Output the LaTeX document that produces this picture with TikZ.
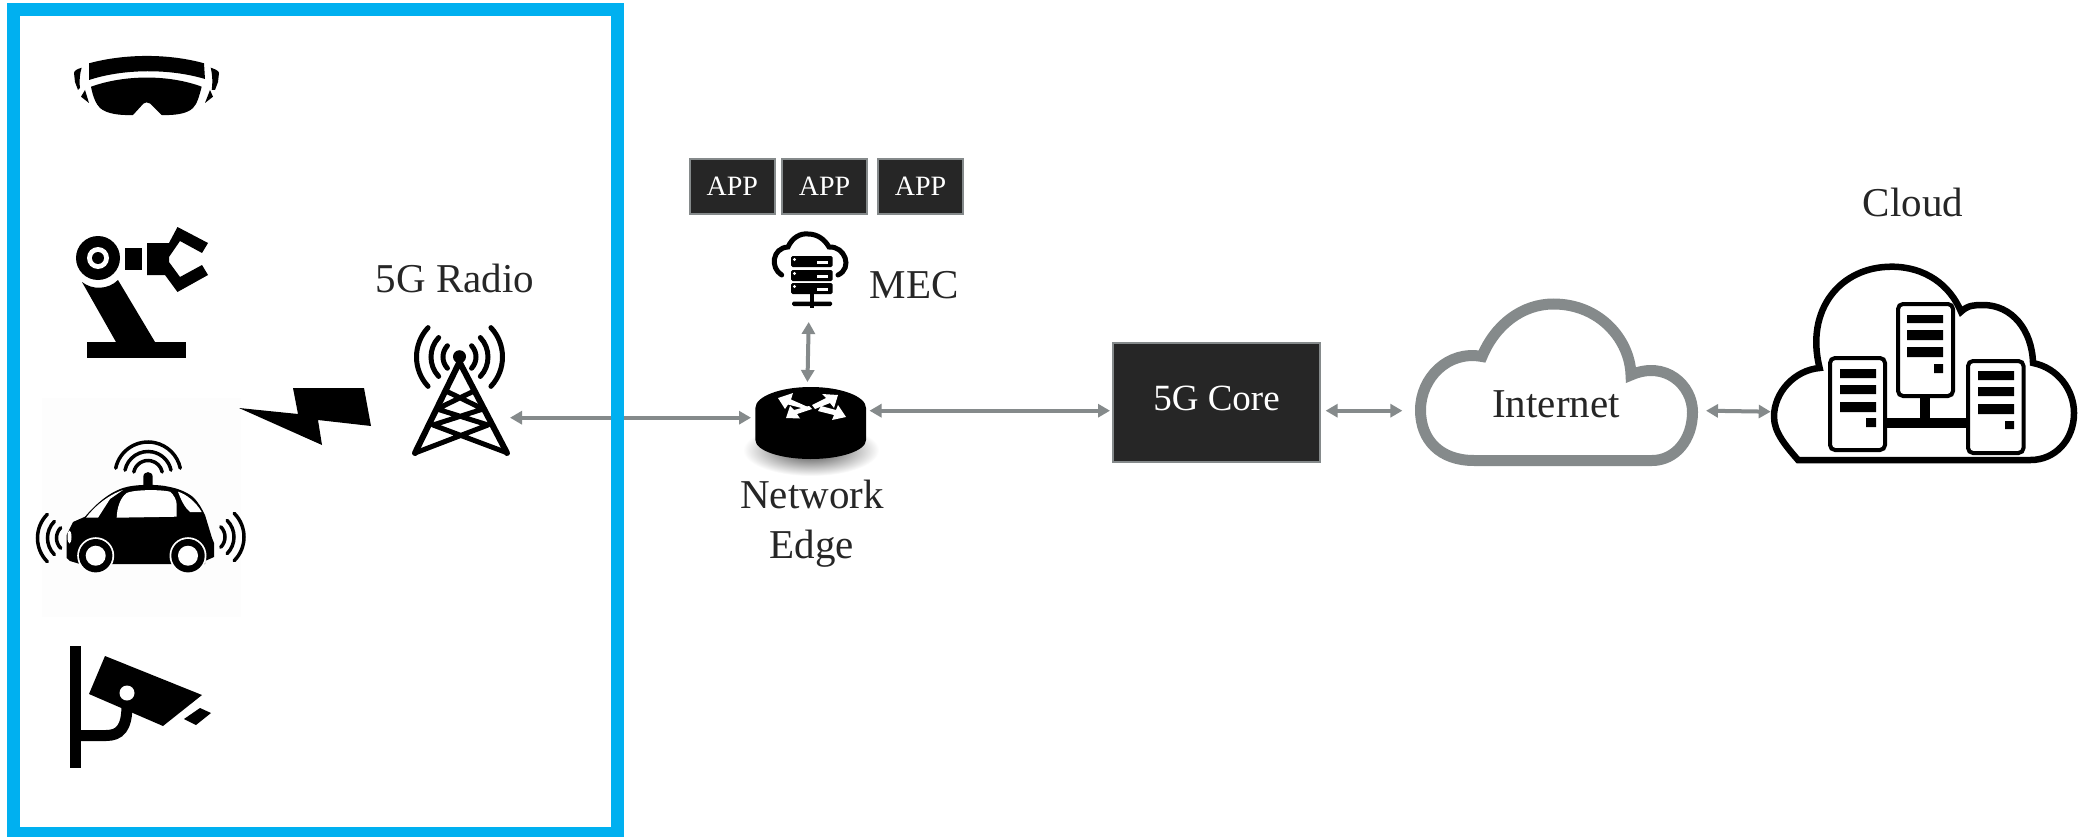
\documentclass[tikz,border=0pt]{standalone}
\usepackage{fontspec}
\setmainfont{Liberation Serif}
\usetikzlibrary{arrows.meta}
\definecolor{boxblue}{HTML}{00B0F0}
\definecolor{darkfill}{HTML}{262626}
\definecolor{txt}{HTML}{262626}
\definecolor{conngray}{HTML}{858A8B}
\definecolor{faint}{HTML}{FDFDFD}
\newcommand{\wavearc}[6][3.5]{\draw[line width=#1pt,line cap=round] ([shift={(#5:#4)}]#2,#3) arc[start angle=#5,end angle=#6,radius=#4];}
\tikzset{
  lbl/.style={font=\fontsize{41}{50}\selectfont,text=txt,inner sep=0pt,anchor=base},
  appbox/.style={rectangle,fill=darkfill,draw=conngray,line width=1.8pt,minimum width=85pt,minimum height=55pt,inner sep=0pt,text=white,font=\fontsize{28}{32}\selectfont},
  corebox/.style={rectangle,fill=darkfill,draw=conngray,line width=1.8pt,minimum width=207pt,minimum height=119pt,inner sep=0pt,outer sep=0pt},
  hit/.style={rectangle,inner sep=0pt,outer sep=0pt},
  ic/.style={fill=black,draw=none},
  conn/.style={draw=conngray,fill=conngray,line width=4pt,{Triangle[length=12pt,width=13pt]}-{Triangle[length=12pt,width=13pt]}},
  srv/.style={fill=white,draw=black,line width=4pt,rounded corners=5pt},
}
\begin{document}
\begin{tikzpicture}[x=1pt,y=1pt,yscale=-1]
\useasboundingbox (0,0) rectangle (2092,837);
\fill[white] (0,0) rectangle (2092,837);
% faint image background behind the car
\fill[faint] (42,398) rectangle (241,617);
% headset
\fill[ic] (89,63.3) .. controls (125,53.5) and (169,53.5) .. (204,63.3) -- (205,79) .. controls (170,68.5) and (124,68.5) .. (89,80) -- cycle;
\fill[ic] (91,86.7) .. controls (125,74.5) and (169,74.5) .. (201.7,86.7) .. controls (199,97) and (197,104) .. (193,108) .. controls (187,114) and (174,115.5) .. (161.7,115) -- (150,103.5) .. controls (148,102) and (145,102) .. (143.5,103.5) -- (133,115) .. controls (120,115.5) and (107,114) .. (100,108) .. controls (96,104) and (93,97) .. (91,86.7) -- cycle;
\fill[ic] (81.7,67.7) .. controls (77,69) and (74,71) .. (74,73) -- (75,82) -- (78,90) -- (80,88) .. controls (79,80) and (80,73) .. (81.7,67.7) -- cycle;
\fill[ic] (210.7,67.7) .. controls (215,69) and (219,71) .. (219,73) -- (218,82) -- (215,90) -- (211.7,90) .. controls (213,80) and (212,73) .. (210.7,67.7) -- cycle;
\fill[ic] (85,90) -- (81,96.7) -- (89,103) -- cycle;
\fill[ic] (210,90) -- (213,96.7) -- (205,103) -- cycle;
% robot arm
\fill[ic] (86.5,342) rectangle (186,358);
\fill[ic] (82,282) .. controls (92,290) and (108,290) .. (118,280) -- (155,342) -- (116,342) -- cycle;
\fill[ic] (98,258) circle[radius=22];
\fill[white] (98,258) circle[radius=11];
\fill[ic] (98,258) circle[radius=6];
\fill[ic] (124.5,248) rectangle (142,270);
\fill[ic] (147,243) -- (169,243) -- (177.5,227) -- (208,243) -- (202,253) -- (180,241) -- (169,257) -- (169,262) -- (180,277) -- (202,265) -- (208,275) -- (177.5,292) -- (165,275) -- (147,275) -- cycle;
% radio tower
\node[hit,minimum width=100pt,minimum height=72pt] (radio) at (460,417.7) {};
\fill[ic] (459.5,356.7) circle[radius=6.5];
\wavearc[5]{459.5}{357}{43}{137}{223}
\wavearc[5]{459.5}{357}{28.5}{137}{223}
\wavearc[5]{459.5}{357}{16.5}{137}{223}
\wavearc[5]{459.5}{357}{43}{-43}{43}
\wavearc[5]{459.5}{357}{28.5}{-43}{43}
\wavearc[5]{459.5}{357}{16.5}{-43}{43}
\draw[line width=6pt,line cap=round,line join=round] (415,453) -- (459.5,362) -- (507,453);
\draw[line width=5pt,line cap=round] (448,392) -- (483,409) (472,392) -- (437,409) (437,409) -- (488,425) (483,409) -- (433,425) (433,425) -- (505,452) (488,425) -- (415,453);
% lightning
\fill[ic] (239,408) -- (298,414) -- (293,388) -- (364,388) -- (371,426) -- (318,420) -- (322,445) -- cycle;
% car
\fill[ic] (70,561) -- (66.7,558) -- (66.7,535) -- (73,522) -- (85,516.7) .. controls (95,505) and (108,493) .. (123,488) .. controls (135,484) and (158,484) .. (170,487) .. controls (180,489) and (188,493) .. (193,497) .. controls (199,503) and (202,509) .. (205,515) -- (212,538) -- (214,543) -- (214,557) -- (205,561) -- (205,564) -- (80,564) -- cycle;
\fill[white] (116.7,517.7) .. controls (117,508) and (120,498) .. (126.7,493) .. controls (132,490) and (158,489) .. (170,491.7) .. controls (174,495) and (176.7,500) .. (176.7,505) -- (176.7,516.7) -- cycle;
\fill[white] (86,517.7) .. controls (94,507) and (108,495) .. (123,490) -- (110,499) -- (98,517.7) -- cycle;
\fill[white] (178,491.7) .. controls (186,494) and (196,502) .. (201.7,512) -- (190,512) .. controls (185,508) and (181,500) .. (178,491.7) -- cycle;
\fill[white] (69.5,537) ellipse[x radius=2,y radius=6.5];
\fill[ic] (143.3,485) -- (143.3,477) .. controls (143.3,470.5) and (152.7,470.5) .. (152.7,477) -- (152.7,485) -- cycle;
\foreach \cx in {95.7,188}{
  \fill[white] (\cx,555.7) circle[radius=18.5];
  \fill[ic] (\cx,555.7) circle[radius=16.7];
  \fill[white] (\cx,555.7) circle[radius=10];
}
\wavearc{148}{475}{33}{-168}{-12}
\wavearc{148}{475}{23.5}{-168}{-12}
\wavearc{148}{475}{14.5}{-168}{-12}
\wavearc{71}{538}{33.5}{135}{225}
\wavearc{71}{538}{23.5}{135}{225}
\wavearc{71}{538}{14.5}{135}{225}
\wavearc{210.5}{537}{33.5}{-45}{45}
\wavearc{210.5}{537}{23.5}{-45}{45}
\wavearc{210.5}{537}{14.5}{-45}{45}
% camera
\fill[ic] (69.5,645.7) rectangle (80.5,768);
\draw[line width=11pt] (80,735.5) -- (106,735.5) .. controls (120,735.5) and (127,728) .. (127,705);
\fill[ic] (105,656) -- (202,695) -- (163,726) -- (89,694) -- cycle;
\fill[white] (127,693) circle[radius=7.5];
\fill[ic] (200,708) -- (211,713) -- (196,725) -- (184,719) -- cycle;
% apps
\node[appbox] (app1) at (732.25,186.5) {APP};
\node[appbox] (app2) at (824.5,186.5) {APP};
\node[appbox] (app3) at (920.5,186.5) {APP};
% MEC icon
\node[hit,minimum width=74pt,minimum height=174pt] (mec) at (808.7,235) {};
\draw[line width=5pt,line cap=round] (781.7,275) .. controls (770,268) and (772,248) .. (788,247) .. controls (792,238) and (800,233) .. (808,234) .. controls (818,234) and (825,240) .. (829,247) .. controls (845,246) and (853,268) .. (838,275);
\foreach \ry in {256,270,283}{
  \fill[ic,rounded corners=1.5pt] (791,\ry) rectangle (832.6,\ry+11);
  \fill[white] (817,\ry+5) rectangle (828,\ry+8);
  \fill[white] (794.5,\ry+3.5) circle[radius=1.6];
}
\fill[ic] (809.5,293) rectangle (813.5,308);
\fill[ic,rounded corners=1.5pt] (792,301.5) rectangle (832,306);
\node[lbl] (meclabel) at (914,298) {MEC};
% router
\shade[inner color=black!75,outer color=white] (811,450) ellipse[x radius=68,y radius=26];
\node[hit,minimum width=118.5pt,minimum height=64pt] (router) at (810.25,414) {};
\fill[ic] (755.4,408) arc[start angle=180,end angle=360,x radius=55.3,y radius=21] -- (866,440) arc[start angle=0,end angle=180,x radius=55.3,y radius=19] -- cycle;
\begin{scope}[white]
  \fill (778,398) -- (793,393) -- (791,399.5) -- (808,407) -- (805,409) -- (788,404.5) -- (785,409) -- cycle;
  \fill (838,395) -- (834,408) -- (830,403) -- (815,409) -- (812,405) -- (826,398) -- (822,394) -- cycle;
  \fill (786,418) -- (790,406) -- (794,410) -- (809,406) -- (812,409) -- (797,414) -- (800,418.5) -- cycle;
  \fill (846,417) -- (832,420) -- (834,415) -- (818,411) -- (821,406) -- (836,410) -- (838,405) -- cycle;
\end{scope}
\node[lbl] (edge1) at (812,508) {Network};
\node[lbl] (edge2) at (812,558) {Edge};
% core
\node[corebox] (core) at (1216.5,402.5) {};
\node[lbl,text=white,font=\fontsize{37}{44}\selectfont] (corelabel) at (1216.5,410) {5G Core};
% Internet cloud
\node[hit,minimum width=303.6pt,minimum height=160pt] (internet) at (1554.2,410.7) {};
\draw[conngray,line width=11pt,line join=miter] (1474,460.5) .. controls (1440,460.5) and (1420.5,440) .. (1420.5,410) .. controls (1420.5,378) and (1448,350) .. (1482,356.5) .. controls (1495,325) and (1522,304) .. (1553.4,304) .. controls (1600,304) and (1630,340) .. (1631,375) .. controls (1665,360) and (1692.5,385) .. (1692.5,412) .. controls (1692.5,440) and (1675,460.5) .. (1652,460.5) -- cycle;
\node[lbl] (internetlabel) at (1556,417) {Internet};
% Cloud with servers
\node[hit,minimum width=306pt,minimum height=200pt] (cloud) at (1923.7,411.7) {};
\draw[line width=6.5pt,line join=miter] (1798,460) .. controls (1785,445) and (1774,432) .. (1774,416.7) .. controls (1774,392) and (1795,370) .. (1819.6,368) .. controls (1805,310) and (1840,266.7) .. (1891.6,266.7) .. controls (1925,266.7) and (1950,285) .. (1961,311.7) .. controls (1968,305) and (1975,305) .. (1983,305) .. controls (2012,305) and (2032,330) .. (2033,363) .. controls (2058,368) and (2074,390) .. (2074,413) .. controls (2074,440) and (2055,460) .. (2030.6,460) -- cycle;
\fill[ic] (1920,396) rectangle (1930,420);
\fill[ic] (1885,418) rectangle (1968,428);
\draw[srv] (1898,304) rectangle (1953,396);
\draw[srv] (1830,358) rectangle (1885,450);
\draw[srv] (1968,361) rectangle (2023.5,453);
\fill[ic] (1907,315) rectangle (1943,323) (1907,330) rectangle (1943,340) (1907,347) rectangle (1943,357) (1934,364) rectangle (1943,373);
\fill[ic] (1840,369) rectangle (1876,378) (1840,385) rectangle (1876,394) (1840,402) rectangle (1876,412) (1866,418) rectangle (1876,427);
\fill[ic] (1978,371) rectangle (2014,380) (1978,387) rectangle (2014,396) (1978,404) rectangle (2014,414) (2005,421) rectangle (2014,429);
\node[lbl] (cloudlabel) at (1913,216) {Cloud};
\node[lbl] (radiolabel) at (455,292) {5G Radio};
% connectors
\draw[conn] (radio.east) -- (radio.east -| router.west);
\draw[conn] ([xshift=-2.8pt]router.north) -- (mec.south);
\draw[conn] ([yshift=-3.3pt]router.east) -- ([xshift=-3pt,yshift=8.2pt]core.west);
\draw[conn] ([xshift=5.6pt,yshift=8.2pt]core.east) -- (internet.west);
\draw[conn] (internet.east) -- (cloud.west);
% blue frame
\draw[boxblue,line width=13pt] (13.5,10) rectangle (617.5,833.5);
\end{tikzpicture}
\end{document}
